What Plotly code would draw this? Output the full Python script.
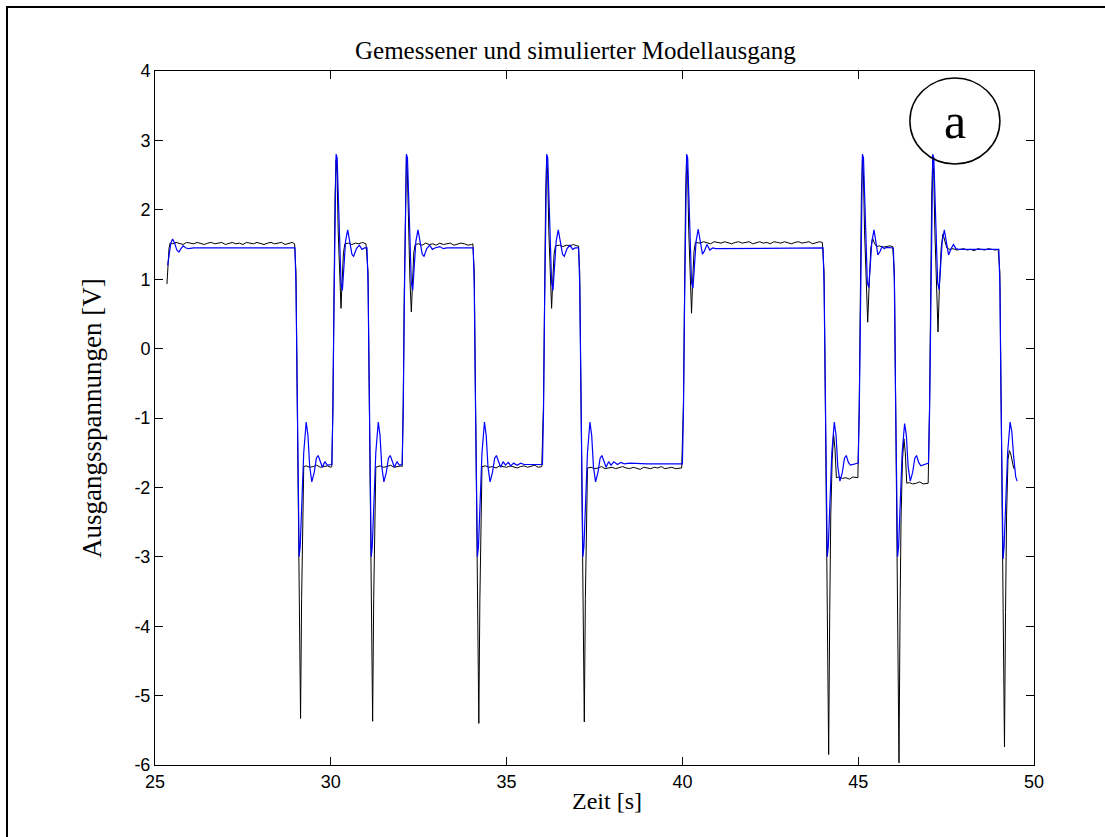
import plotly.graph_objects as go

# ---------------- data ----------------
# measured output (black): (time [s], voltage [V])
measured = [
    (25.34, 0.93), (25.37, 1.25), (25.40, 1.45), (25.43, 1.52),
    (25.5, 1.51), (25.6, 1.53), (25.7, 1.52), (25.8, 1.50), (25.9, 1.53), (26.0, 1.52), (26.1, 1.51), (26.2, 1.53),
    (26.3, 1.52), (26.4, 1.50), (26.5, 1.52), (26.6, 1.53), (26.7, 1.51), (26.8, 1.52), (26.9, 1.53), (27.0, 1.50),
    (27.1, 1.52), (27.2, 1.53), (27.3, 1.51), (27.4, 1.52), (27.5, 1.50), (27.6, 1.53), (27.7, 1.52), (27.8, 1.51),
    (27.9, 1.53), (28.0, 1.52), (28.1, 1.50), (28.2, 1.52), (28.3, 1.53), (28.4, 1.51), (28.5, 1.52), (28.6, 1.53),
    (28.7, 1.50), (28.8, 1.52), (28.9, 1.53), (28.97, 1.51),
    (29.01, 1.10), (29.04, -0.50), (29.07, -2.20), (29.10, -3.80), (29.14, -5.33), (29.17, -3.60), (29.20, -2.20), (29.23, -1.70),
    (29.3, -1.69), (29.4, -1.71), (29.5, -1.70), (29.6, -1.68), (29.7, -1.71), (29.8, -1.70), (29.9, -1.69), (30.0, -1.71), (30.03, -1.70),
    (30.06, -0.80), (30.09, 0.80), (30.12, 2.20), (30.15, 2.72), (30.18, 2.50), (30.21, 1.70), (30.25, 1.00), (30.29, 0.58),
    (30.32, 0.95), (30.36, 1.38), (30.40, 1.51),
    (30.5, 1.52), (30.6, 1.50), (30.7, 1.52), (30.8, 1.51), (30.9, 1.53), (31.0, 1.51),
    (31.06, 1.10), (31.09, -0.50), (31.12, -2.20), (31.15, -3.80), (31.19, -5.37), (31.22, -3.60), (31.25, -2.20), (31.28, -1.71),
    (31.4, -1.69), (31.5, -1.71), (31.6, -1.70), (31.7, -1.68), (31.8, -1.71), (31.9, -1.70), (32.0, -1.69), (32.03, -1.70),
    (32.06, -0.80), (32.09, 0.80), (32.12, 2.20), (32.15, 2.75), (32.18, 2.50), (32.21, 1.70), (32.25, 1.00), (32.29, 0.53),
    (32.32, 0.95), (32.36, 1.38), (32.40, 1.50),
    (32.5, 1.51), (32.6, 1.49), (32.7, 1.52), (32.8, 1.50), (32.9, 1.51), (33.0, 1.49), (33.1, 1.52), (33.2, 1.50),
    (33.3, 1.51), (33.4, 1.52), (33.5, 1.49), (33.6, 1.50), (33.7, 1.52), (33.8, 1.51), (33.9, 1.49), (34.0, 1.50), (34.04, 1.51),
    (34.08, 1.10), (34.11, -0.50), (34.14, -2.20), (34.17, -3.80), (34.21, -5.40), (34.24, -3.60), (34.27, -2.20), (34.30, -1.70),
    (34.4, -1.69), (34.5, -1.71), (34.6, -1.70), (34.7, -1.72), (34.8, -1.69), (34.9, -1.70), (35.0, -1.71), (35.1, -1.69),
    (35.2, -1.70), (35.3, -1.72), (35.4, -1.70), (35.5, -1.69), (35.6, -1.71), (35.7, -1.70), (35.8, -1.68), (35.9, -1.71), (36.0, -1.70),
    (36.05, -0.80), (36.08, 0.80), (36.11, 2.20), (36.14, 2.74), (36.17, 2.50), (36.20, 1.70), (36.24, 1.00), (36.28, 0.58),
    (36.31, 0.95), (36.35, 1.36), (36.39, 1.48),
    (36.5, 1.49), (36.6, 1.47), (36.7, 1.49), (36.8, 1.48), (36.9, 1.50), (37.0, 1.48), (37.04, 1.48),
    (37.08, 1.10), (37.11, -0.50), (37.14, -2.20), (37.17, -3.80), (37.21, -5.38), (37.24, -3.60), (37.27, -2.20), (37.30, -1.72),
    (37.4, -1.71), (37.5, -1.73), (37.6, -1.72), (37.7, -1.70), (37.8, -1.73), (37.9, -1.72), (38.0, -1.71), (38.1, -1.73),
    (38.2, -1.72), (38.3, -1.70), (38.4, -1.72), (38.5, -1.73), (38.6, -1.71), (38.7, -1.72), (38.8, -1.74), (38.9, -1.71),
    (39.0, -1.72), (39.1, -1.73), (39.2, -1.71), (39.3, -1.72), (39.4, -1.70), (39.5, -1.73), (39.6, -1.72), (39.7, -1.71),
    (39.8, -1.73), (39.9, -1.72), (39.98, -1.72),
    (40.03, -0.80), (40.06, 0.80), (40.09, 2.20), (40.12, 2.75), (40.15, 2.50), (40.18, 1.70), (40.22, 1.00), (40.26, 0.51),
    (40.29, 0.95), (40.33, 1.40), (40.37, 1.53),
    (40.5, 1.52), (40.6, 1.54), (40.7, 1.53), (40.8, 1.51), (40.9, 1.54), (41.0, 1.53), (41.1, 1.52), (41.2, 1.54),
    (41.3, 1.53), (41.4, 1.51), (41.5, 1.53), (41.6, 1.54), (41.7, 1.52), (41.8, 1.53), (41.9, 1.54), (42.0, 1.51),
    (42.1, 1.53), (42.2, 1.54), (42.3, 1.52), (42.4, 1.53), (42.5, 1.51), (42.6, 1.54), (42.7, 1.53), (42.8, 1.52),
    (42.9, 1.54), (43.0, 1.53), (43.1, 1.51), (43.2, 1.53), (43.3, 1.54), (43.4, 1.52), (43.5, 1.53), (43.6, 1.54),
    (43.7, 1.51), (43.8, 1.53), (43.9, 1.54), (43.98, 1.53),
    (44.03, 1.10), (44.06, -0.50), (44.09, -2.20), (44.12, -3.80), (44.16, -5.85), (44.19, -3.80), (44.22, -2.40), (44.26, -1.60),
    (44.30, -1.24), (44.34, -1.45), (44.38, -1.86),
    (44.45, -1.85), (44.55, -1.87), (44.65, -1.86), (44.75, -1.88), (44.85, -1.85), (44.95, -1.86), (44.99, -1.86),
    (45.03, -0.80), (45.06, 0.80), (45.09, 2.20), (45.12, 2.72), (45.15, 2.50), (45.18, 1.70), (45.22, 1.00), (45.27, 0.38),
    (45.31, 0.90), (45.36, 1.45), (45.41, 1.59), (45.46, 1.52), (45.52, 1.47),
    (45.6, 1.48), (45.7, 1.46), (45.8, 1.47), (45.9, 1.48), (45.98, 1.47),
    (46.03, 1.10), (46.06, -0.50), (46.09, -2.20), (46.12, -3.80), (46.16, -5.97), (46.19, -3.80), (46.22, -2.40), (46.26, -1.60),
    (46.30, -1.30), (46.34, -1.50), (46.38, -1.94),
    (46.45, -1.93), (46.55, -1.95), (46.65, -1.94), (46.75, -1.92), (46.85, -1.95), (46.95, -1.94), (46.99, -1.94),
    (47.03, -0.80), (47.06, 0.80), (47.09, 2.20), (47.12, 2.72), (47.15, 2.50), (47.18, 1.70), (47.22, 0.90), (47.27, 0.24),
    (47.31, 0.90), (47.36, 1.45), (47.41, 1.65), (47.46, 1.55), (47.52, 1.45), (47.6, 1.43),
    (47.7, 1.44), (47.8, 1.42), (47.9, 1.43), (48.0, 1.44), (48.1, 1.42), (48.2, 1.43), (48.3, 1.41), (48.4, 1.44),
    (48.5, 1.43), (48.6, 1.42), (48.7, 1.44), (48.8, 1.43), (48.9, 1.42), (48.98, 1.43),
    (49.03, 1.10), (49.06, -0.50), (49.09, -2.20), (49.12, -3.80), (49.16, -5.74), (49.19, -3.80), (49.22, -2.40), (49.26, -1.60),
    (49.30, -1.47), (49.34, -1.52), (49.38, -1.65), (49.42, -1.72), (49.46, -1.74),
]

# simulated model output (blue): (time [s], voltage [V])
simulated = [
    (25.36, 1.20), (25.40, 1.35), (25.45, 1.52), (25.50, 1.58), (25.56, 1.52), (25.62, 1.42), (25.68, 1.39), (25.74, 1.44),
    (25.80, 1.48), (25.88, 1.45), (25.96, 1.44), (26.1, 1.45), (28.98, 1.45),
    (29.01, 0.90), (29.04, -0.60), (29.07, -2.20), (29.10, -3.00), (29.13, -2.85), (29.17, -2.20), (29.23, -1.50), (29.30, -1.06),
    (29.35, -1.25), (29.40, -1.70), (29.46, -1.92), (29.53, -1.78), (29.59, -1.58), (29.64, -1.54), (29.70, -1.64), (29.76, -1.71),
    (29.83, -1.63), (29.90, -1.68), (30.03, -1.67),
    (30.06, -0.90), (30.09, 0.60), (30.12, 2.10), (30.15, 2.80), (30.18, 2.75), (30.21, 2.30), (30.25, 1.50), (30.29, 0.95),
    (30.33, 0.84), (30.37, 1.15), (30.42, 1.55), (30.48, 1.71), (30.54, 1.55), (30.60, 1.36), (30.65, 1.33), (30.73, 1.44),
    (30.81, 1.49), (30.89, 1.43), (30.96, 1.45), (31.03, 1.45),
    (31.06, 0.90), (31.09, -0.60), (31.12, -2.20), (31.15, -3.00), (31.18, -2.85), (31.22, -2.20), (31.28, -1.50), (31.35, -1.06),
    (31.40, -1.25), (31.45, -1.70), (31.51, -1.92), (31.58, -1.78), (31.64, -1.58), (31.69, -1.54), (31.75, -1.64), (31.81, -1.71),
    (31.88, -1.63), (31.95, -1.68), (32.03, -1.67),
    (32.06, -0.90), (32.09, 0.60), (32.12, 2.10), (32.15, 2.80), (32.18, 2.75), (32.21, 2.30), (32.25, 1.50), (32.29, 0.95),
    (32.33, 0.84), (32.37, 1.15), (32.42, 1.55), (32.48, 1.71), (32.54, 1.55), (32.60, 1.36), (32.65, 1.33), (32.73, 1.44),
    (32.81, 1.49), (32.89, 1.43), (32.96, 1.45), (33.1, 1.47), (33.2, 1.44), (33.3, 1.45), (34.05, 1.45),
    (34.08, 0.90), (34.11, -0.60), (34.14, -2.20), (34.17, -3.00), (34.20, -2.85), (34.24, -2.20), (34.30, -1.50), (34.37, -1.06),
    (34.42, -1.25), (34.47, -1.70), (34.53, -1.92), (34.60, -1.78), (34.66, -1.58), (34.71, -1.54), (34.77, -1.64), (34.83, -1.71),
    (34.90, -1.63), (34.97, -1.68), (35.05, -1.64), (35.12, -1.69), (35.2, -1.65), (35.3, -1.68), (35.4, -1.65), (35.5, -1.67),
    (36.02, -1.67),
    (36.05, -0.90), (36.08, 0.60), (36.11, 2.10), (36.14, 2.80), (36.17, 2.75), (36.20, 2.30), (36.24, 1.50), (36.28, 0.95),
    (36.32, 0.84), (36.36, 1.15), (36.41, 1.55), (36.47, 1.71), (36.53, 1.55), (36.59, 1.36), (36.64, 1.33), (36.72, 1.44),
    (36.80, 1.49), (36.88, 1.43), (36.95, 1.45), (37.05, 1.45),
    (37.08, 0.90), (37.11, -0.60), (37.14, -2.20), (37.17, -3.00), (37.20, -2.85), (37.24, -2.20), (37.30, -1.50), (37.37, -1.06),
    (37.42, -1.25), (37.47, -1.70), (37.53, -1.92), (37.60, -1.78), (37.66, -1.58), (37.71, -1.54), (37.77, -1.64), (37.83, -1.71),
    (37.90, -1.63), (37.97, -1.68), (38.05, -1.63), (38.15, -1.67), (38.25, -1.64), (38.35, -1.66), (38.5, -1.65), (39.0, -1.66),
    (40.0, -1.66),
    (40.03, -0.90), (40.06, 0.60), (40.09, 2.10), (40.12, 2.80), (40.15, 2.75), (40.18, 2.30), (40.22, 1.50), (40.26, 0.95),
    (40.30, 0.87), (40.34, 1.15), (40.39, 1.55), (40.45, 1.72), (40.51, 1.55), (40.57, 1.36), (40.62, 1.40), (40.70, 1.50),
    (40.78, 1.42), (40.86, 1.45), (40.95, 1.44), (44.0, 1.45),
    (44.03, 0.90), (44.06, -0.60), (44.09, -2.20), (44.12, -3.00), (44.15, -2.85), (44.19, -2.20), (44.25, -1.50), (44.32, -1.06),
    (44.37, -1.25), (44.42, -1.70), (44.48, -1.91), (44.55, -1.78), (44.61, -1.58), (44.66, -1.54), (44.72, -1.64), (44.78, -1.68),
    (44.85, -1.67), (44.93, -1.66), (45.0, -1.65),
    (45.03, -0.90), (45.06, 0.60), (45.09, 2.10), (45.12, 2.80), (45.15, 2.75), (45.18, 2.30), (45.22, 1.50), (45.26, 0.95),
    (45.30, 0.88), (45.34, 1.15), (45.39, 1.55), (45.45, 1.71), (45.51, 1.50), (45.56, 1.35), (45.62, 1.40), (45.68, 1.47),
    (45.74, 1.44), (45.80, 1.46), (46.0, 1.45),
    (46.03, 0.90), (46.06, -0.60), (46.09, -2.20), (46.12, -3.00), (46.15, -2.85), (46.19, -2.20), (46.25, -1.50), (46.32, -1.08),
    (46.37, -1.25), (46.42, -1.70), (46.48, -1.91), (46.55, -1.78), (46.61, -1.58), (46.66, -1.54), (46.72, -1.64), (46.78, -1.69),
    (46.85, -1.68), (46.93, -1.66), (47.0, -1.65),
    (47.03, -0.90), (47.06, 0.60), (47.09, 2.10), (47.12, 2.80), (47.15, 2.75), (47.18, 2.30), (47.22, 1.50), (47.26, 0.95),
    (47.30, 0.85), (47.34, 1.15), (47.39, 1.55), (47.45, 1.71), (47.51, 1.50), (47.57, 1.35), (47.64, 1.44), (47.71, 1.50),
    (47.78, 1.44), (47.86, 1.43), (49.0, 1.43),
    (49.03, 0.90), (49.06, -0.60), (49.09, -2.20), (49.12, -3.03), (49.15, -2.85), (49.19, -2.20), (49.25, -1.50), (49.32, -1.06),
    (49.37, -1.20), (49.42, -1.55), (49.48, -1.85), (49.52, -1.91),
]

t_meas = [p[0] for p in measured]
u_meas = [p[1] for p in measured]
t_sim = [p[0] for p in simulated]
u_sim = [p[1] for p in simulated]

x_ticks = [25, 30, 35, 40, 45, 50]
x_tick_labels = ["25", "30", "35", "40", "45", "50"]
y_ticks = [-6, -5, -4, -3, -2, -1, 0, 1, 2, 3, 4]
y_tick_labels = ["-6", "-5", "-4", "-3", "-2", "-1", "0", "1", "2", "3", "4"]

title_text = "Gemessener und simulierter Modellausgang"
x_label = "Zeit [s]"
y_label = "Ausgangsspannungen [V]"
marker_text = "a"
marker_pos = (47.75, 3.28)

# ---------------- figure ----------------
W, H = 1105, 837
L, R, T, B = 155, 71, 71, 72
pw, ph = W - L - R, H - T - B


def px_x(px):
    return (px - L) / pw


def px_y(py):
    return (H - B - py) / ph


serif = "Liberation Serif, Times New Roman, serif"
sans = "Liberation Sans, Arial, sans-serif"

fig = go.Figure()
fig.add_trace(go.Scatter(x=t_meas, y=u_meas, mode="lines",
                         line=dict(color="black", width=1), name="gemessen"))
fig.add_trace(go.Scatter(x=t_sim, y=u_sim, mode="lines",
                         line=dict(color="#0000ff", width=1.2), name="simuliert"))

axis_common = dict(showgrid=False, zeroline=False, showline=True, linecolor="black",
                   linewidth=1, mirror="ticks", ticks="inside", ticklen=8,
                   tickcolor="black", tickwidth=1,
                   tickfont=dict(family=sans, size=18, color="black"))

fig.update_layout(
    width=W, height=H,
    margin=dict(l=L, r=R, t=T, b=B),
    paper_bgcolor="white", plot_bgcolor="white",
    showlegend=False,
    xaxis=dict(range=[25, 50], tickmode="array", tickvals=x_ticks, ticktext=x_tick_labels, **axis_common),
    yaxis=dict(range=[-6, 4], tickmode="array", tickvals=y_ticks, ticktext=y_tick_labels, **axis_common),
    shapes=[
        dict(type="rect", xref="paper", yref="paper",
             x0=px_x(7), y0=px_y(850), x1=px_x(1120), y1=px_y(7),
             line=dict(color="black", width=2), layer="below"),
        dict(type="circle", xref="x", yref="y", xsizemode="pixel", ysizemode="pixel",
             xanchor=marker_pos[0], yanchor=marker_pos[1], x0=-45, x1=45, y0=-43, y1=43,
             line=dict(color="black", width=1.5)),
    ],
    annotations=[
        dict(text=title_text, xref="paper", yref="paper", x=px_x(575), y=px_y(50),
             xanchor="center", yanchor="middle", showarrow=False,
             font=dict(family=serif, size=25, color="black")),
        dict(text=x_label, xref="paper", yref="paper", x=px_x(607), y=px_y(801),
             xanchor="center", yanchor="middle", showarrow=False,
             font=dict(family=serif, size=24, color="black")),
        dict(text=y_label, xref="paper", yref="paper", x=px_x(92), y=px_y(418),
             xanchor="center", yanchor="middle", showarrow=False, textangle=-90,
             font=dict(family=serif, size=27, color="black")),
        dict(text=marker_text, xref="x", yref="y", x=marker_pos[0], y=marker_pos[1],
             xanchor="center", yanchor="middle", showarrow=False,
             font=dict(family=serif, size=50, color="black")),
    ],
)

fig.write_html("out.html")
